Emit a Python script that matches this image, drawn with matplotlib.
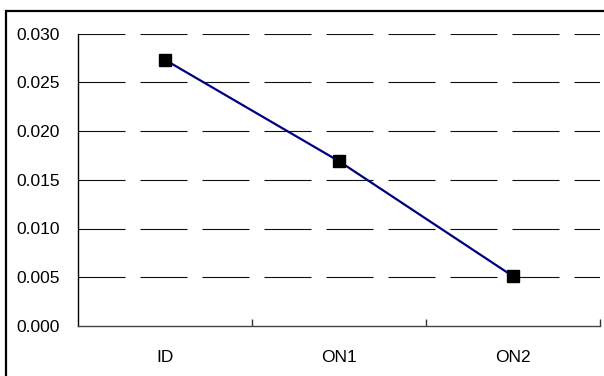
import matplotlib
matplotlib.use("Agg")
import matplotlib.pyplot as plt
from matplotlib.patches import Rectangle

categories = ["ID", "ON1", "ON2"]
values = [0.0273, 0.0169, 0.0051]
yticks = [0.000, 0.005, 0.010, 0.015, 0.020, 0.025, 0.030]

W, H = 604, 376
fig = plt.figure(figsize=(W / 100, H / 100), dpi=100)
plt.rcParams['font.family'] = ['Liberation Sans', 'DejaVu Sans']

left, right, top, bottom = 78, 600, 33.5, 326
ax = fig.add_axes([left / W, (H - bottom) / H, (right - left) / W, (bottom - top) / H])

x = list(range(len(categories)))
ax.plot(x, values, color='#000080', lw=1.6, marker='s', markersize=8.5,
        markerfacecolor='black', markeredgecolor='black', zorder=3, clip_on=False)

ax.set_xlim(-0.5, len(categories) - 0.5)
ax.set_ylim(0, 0.030)
ax.set_yticks(yticks)
ax.set_yticklabels([f"{v:.3f}" for v in yticks], fontsize=12.5)
ax.tick_params(axis='y', length=0, pad=13)

ax.set_xticks(x)
ax.set_xticklabels(categories, fontsize=12.5)
ax.tick_params(axis='x', length=0, pad=17)
ax.set_xticks([i + 0.5 for i in range(len(categories))], minor=True)
ax.tick_params(axis='x', which='minor', direction='in', length=5, width=1, color='#333333')

for v in yticks[1:]:
    ax.axhline(v, color='#111111', lw=0.8, dashes=(47 * 0.72 / 0.8, 15 * 0.72 / 0.8), zorder=1)

for s in ['top', 'right']:
    ax.spines[s].set_visible(False)
ax.spines['left'].set_color('black')
ax.spines['left'].set_linewidth(1)
ax.spines['bottom'].set_color('#444444')
ax.spines['bottom'].set_linewidth(1)

# outer border
fig.patches.append(Rectangle((5.5 / W, -0.1), 1.2, (H - 10.5) / H + 0.1,
                             transform=fig.transFigure, fill=False,
                             edgecolor='black', lw=1.6))

fig.savefig("out.png", dpi=100)
